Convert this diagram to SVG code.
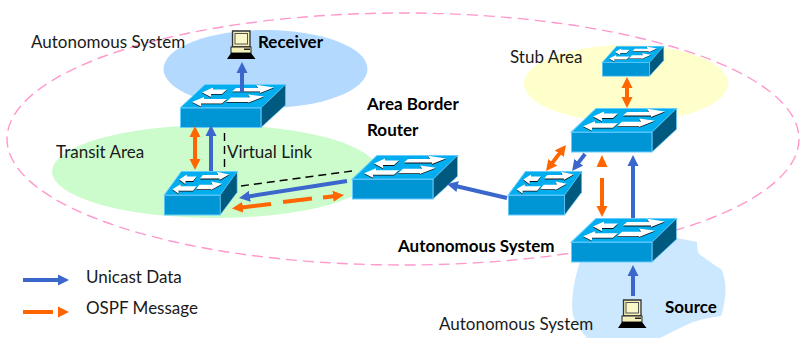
<svg xmlns="http://www.w3.org/2000/svg" xmlns:xlink="http://www.w3.org/1999/xlink" width="800" height="338" viewBox="0 0 800 338">
<style>
text{font-family:"Lato","Open Sans",sans-serif;font-size:17px;fill:#1a1a1a}
.b{font-weight:700;fill:#000}
.blue{fill:none;stroke:#3b66cc;stroke-width:4;marker-end:url(#hb)}
.or{fill:none;stroke:#ff6600;stroke-width:4}
.dbl{marker-start:url(#ho);marker-end:url(#ho)}
.end{marker-end:url(#ho)}
.vl{fill:none;stroke:#000;stroke-width:1.4;stroke-dasharray:8 5}
</style>
<defs>
<marker id="hb" markerUnits="userSpaceOnUse" markerWidth="12" markerHeight="12" refX="1" refY="6" orient="auto"><path d="M0 .5L11 6L0 11.5z" fill="#3b66cc"/></marker>
<marker id="ho" markerUnits="userSpaceOnUse" markerWidth="12" markerHeight="12" refX="1" refY="6" orient="auto-start-reverse"><path d="M0 .5L11 6L0 11.5z" fill="#ff6600"/></marker>
<path id="swa" d="M22 8.500L33 3.500V5.500H47L42 10H31V13zM56 4H78L76 .8L94 3.500L80 9V7.500H52zM12 18L24 13V15H47L42 19.500H21V22.500zM51 13.500H70L68 10.500L84 12.500L68 18.800V18H46z"/>
<symbol id="sw" viewBox="0 0 106 44" preserveAspectRatio="none" overflow="visible">
<path d="M0 24L25 .5H105.500L81 24z" fill="#00adef" stroke="#66ccff" stroke-width="1"/>
<path d="M81 24L105.500 .5V21L81 43.500z" fill="#005a80" stroke="#66ccff" stroke-width=".6"/>
<rect x=".5" y="24" width="80.500" height="19.500" fill="#0096d6" stroke="#66ccff" stroke-width="1"/>
<use href="#swa" fill="#111" y=".8"/>
<use href="#swa" fill="#fff"/>
</symbol>
<g id="pc">
<path d="M5.500 1H23V17H5.500z" fill="#f4eeb8" stroke="#333" stroke-width="1.300"/>
<rect x="8" y="3.500" width="12.500" height="10.500" fill="#fbf8c8" stroke="#555" stroke-width="1"/>
<rect x="4" y="17" width="20" height="6" fill="#f4eeb8" stroke="#222" stroke-width="1"/>
<rect x="17" y="18.500" width="6" height="1.500" fill="#222"/>
<path d="M4 23H24L28.500 29H0z" fill="#000"/>
</g>
</defs>

<g id="regions">
<ellipse cx="265.500" cy="69" rx="102" ry="39" fill="#b3d9ff"/>
<ellipse cx="215" cy="171.500" rx="163" ry="46.500" fill="#ccfccc"/>
<ellipse cx="626" cy="83.500" rx="102" ry="38.500" fill="#ffffcc"/>
<path d="M677 238L697 242Q697 250 699 254Q710 262 722 270Q727 285 725 297Q724 308 721 316Q705 318 693 322Q675 330 660 338H587Q572 322 572 307Q572 285 580 262z" fill="#cce8ff"/>
<ellipse cx="403" cy="139" rx="396" ry="126" fill="none" stroke="#ff99cc" stroke-width="1.400" stroke-dasharray="11 6"/>
</g>

<g id="connectors-under">
<path class="vl" d="M224.500 133V170"/>
<path class="vl" d="M241 186L352 171"/>
</g>

<g id="receiver"><use href="#pc" x="227" y="30"/><text class="b" x="258" y="48">Receiver</text></g>
<g id="source"><use href="#pc" x="618" y="299"/><text class="b" x="665" y="313">Source</text></g>
<g id="switch-receiver"><use href="#sw" x="180" y="84" width="106" height="44"/></g>
<g id="switch-transit"><use href="#sw" x="164" y="171" width="73.500" height="44.500"/></g>
<g id="switch-abr"><use href="#sw" x="352" y="155" width="106" height="44.500"/><text class="b" x="367" y="110">Area Border</text><text class="b" x="367" y="136">Router</text></g>
<g id="switch-left"><use href="#sw" x="508" y="171" width="74" height="44.500"/></g>
<g id="switch-middle"><use href="#sw" x="571" y="108" width="106" height="44.500"/></g>
<g id="switch-stub"><use href="#sw" x="602" y="46" width="62" height="30.500"/></g>
<g id="switch-bottom"><use href="#sw" x="571" y="218" width="106" height="44.500"/><text class="b" x="398" y="252">Autonomous System</text></g>

<g id="connectors">
<path class="blue" d="M242 92V72"/>
<path class="or dbl" d="M195 136V160"/>
<path class="blue" d="M211 171V135"/>
<path class="blue" d="M347 181L248.900 196.400"/>
<path class="or end" d="M323 197.500L334 196.200"/>
<path class="or" d="M283 202L312 198.500"/>
<path class="or end" d="M271 204L241.900 207.400"/>
<path class="blue" d="M507 198L456.700 186.300"/>
<path class="or dbl" d="M559.900 152.900L552.100 163.100"/>
<path class="blue" d="M585 154L578.100 163.100"/>
<path d="M602 155L607.500 167H596.500z" fill="#ff6600"/>
<path class="or end" d="M602 178V207"/>
<path class="blue" d="M633 218V165"/>
<path class="or dbl" d="M627 87V98"/>
<path class="blue" d="M633 296V275"/>
</g>

<g id="labels">
<text x="31" y="48">Autonomous System</text>
<text x="56" y="158">Transit Area</text>
<text x="227" y="158">Virtual Link</text>
<text x="510" y="63">Stub Area</text>
<text x="439" y="330">Autonomous System</text>
</g>

<g id="legend">
<path class="blue" d="M23 280H59"/>
<path class="or" d="M23 312H53"/>
<path d="M58 306.500L69 312L58 317.500z" fill="#ff6600"/>
<text x="86" y="283">Unicast Data</text>
<text x="86" y="314">OSPF Message</text>
</g>
</svg>
